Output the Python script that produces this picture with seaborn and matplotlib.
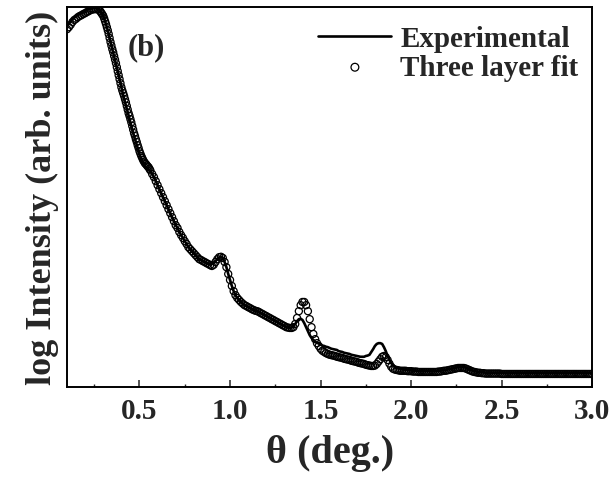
import numpy as np
import pandas as pd
import seaborn as sns
import matplotlib
matplotlib.use("Agg")
import matplotlib.pyplot as plt
from matplotlib.ticker import MultipleLocator

# theta grid (deg), 0.01 step from 0.10 to 3.00
theta = np.round(np.arange(0.10, 3.005, 0.01), 2)

# experimental log intensity (arb. units)
experimental = [
    9.03, 9.08, 9.15, 9.20, 9.24, 9.28, 9.30, 9.33, 9.35, 9.38,
    9.40, 9.43, 9.45, 9.46, 9.48, 9.48, 9.48, 9.46, 9.43, 9.36,
    9.28, 9.15, 9.00, 8.83, 8.63, 8.45, 8.28, 8.10, 7.90, 7.70,
    7.50, 7.30, 7.13, 6.95, 6.78, 6.63, 6.45, 6.28, 6.13, 5.98,
    5.83, 5.70, 5.60, 5.53, 5.48, 5.45, 5.40, 5.33, 5.25, 5.15,
    5.05, 4.95, 4.85, 4.75, 4.65, 4.55, 4.45, 4.35, 4.25, 4.15,
    4.05, 3.98, 3.88, 3.80, 3.73, 3.65, 3.58, 3.50, 3.45, 3.40,
    3.35, 3.30, 3.25, 3.20, 3.18, 3.15, 3.13, 3.10, 3.09, 3.08,
    3.08, 3.10, 3.15, 3.20, 3.24, 3.25, 3.23, 3.13, 3.00, 2.83,
    2.68, 2.53, 2.40, 2.30, 2.23, 2.18, 2.13, 2.09, 2.05, 2.03,
    2.00, 1.98, 1.95, 1.93, 1.91, 1.90, 1.88, 1.85, 1.83, 1.80,
    1.78, 1.75, 1.73, 1.70, 1.68, 1.65, 1.63, 1.60, 1.58, 1.55,
    1.53, 1.50, 1.49, 1.48, 1.49, 1.53, 1.58, 1.65, 1.70, 1.71,
    1.68, 1.60, 1.50, 1.40, 1.30, 1.23, 1.18, 1.14, 1.11, 1.09,
    1.06, 1.04, 1.03, 1.01, 1.00, 0.98, 0.96, 0.95, 0.94, 0.93,
    0.90, 0.89, 0.88, 0.86, 0.85, 0.84, 0.83, 0.81, 0.80, 0.79,
    0.78, 0.77, 0.76, 0.76, 0.76, 0.78, 0.79, 0.81, 0.88, 0.95,
    1.03, 1.08, 1.10, 1.10, 1.08, 1.00, 0.90, 0.78, 0.68, 0.60,
    0.55, 0.51, 0.49, 0.48, 0.46, 0.45, 0.44, 0.44, 0.43, 0.42,
    0.42, 0.41, 0.41, 0.41, 0.40, 0.40, 0.40, 0.40, 0.40, 0.40,
    0.40, 0.40, 0.40, 0.40, 0.40, 0.41, 0.41, 0.42, 0.43, 0.43,
    0.44, 0.45, 0.46, 0.47, 0.48, 0.49, 0.50, 0.50, 0.50, 0.50,
    0.49, 0.47, 0.45, 0.43, 0.41, 0.40, 0.39, 0.38, 0.38, 0.37,
    0.37, 0.36, 0.36, 0.36, 0.36, 0.36, 0.36, 0.36, 0.36, 0.36,
    0.36, 0.35, 0.35, 0.35, 0.35, 0.35, 0.35, 0.35, 0.35, 0.35,
    0.35, 0.35, 0.35, 0.35, 0.35, 0.35, 0.35, 0.35, 0.35, 0.35,
    0.35, 0.35, 0.35, 0.35, 0.35, 0.35, 0.35, 0.35, 0.35, 0.35,
    0.35, 0.35, 0.35, 0.35, 0.35, 0.35, 0.35, 0.35, 0.35, 0.35,
    0.35, 0.35, 0.35, 0.35, 0.35, 0.35, 0.35, 0.35, 0.35, 0.35,
    0.35,
]

# three layer fit on the same grid
fit = [
    8.95, 9.00, 9.06, 9.13, 9.18, 9.21, 9.25, 9.28, 9.30, 9.33,
    9.35, 9.38, 9.40, 9.43, 9.44, 9.45, 9.45, 9.45, 9.41, 9.35,
    9.28, 9.15, 9.00, 8.83, 8.63, 8.45, 8.28, 8.10, 7.90, 7.70,
    7.50, 7.35, 7.20, 7.03, 6.85, 6.70, 6.53, 6.35, 6.20, 6.05,
    5.90, 5.78, 5.68, 5.60, 5.55, 5.50, 5.42, 5.33, 5.25, 5.15,
    5.05, 4.95, 4.85, 4.75, 4.65, 4.55, 4.45, 4.35, 4.25, 4.15,
    4.05, 3.98, 3.88, 3.80, 3.73, 3.65, 3.58, 3.50, 3.45, 3.40,
    3.35, 3.30, 3.25, 3.20, 3.18, 3.15, 3.13, 3.10, 3.08, 3.05,
    3.03, 3.06, 3.13, 3.20, 3.25, 3.26, 3.23, 3.13, 3.00, 2.83,
    2.68, 2.53, 2.40, 2.30, 2.23, 2.18, 2.13, 2.09, 2.05, 2.03,
    2.00, 1.98, 1.95, 1.93, 1.91, 1.90, 1.88, 1.85, 1.83, 1.80,
    1.78, 1.75, 1.73, 1.70, 1.68, 1.65, 1.63, 1.60, 1.58, 1.55,
    1.53, 1.50, 1.49, 1.48, 1.48, 1.50, 1.58, 1.73, 1.90, 2.05,
    2.13, 2.13, 2.05, 1.90, 1.70, 1.50, 1.33, 1.20, 1.10, 1.03,
    0.96, 0.91, 0.88, 0.85, 0.83, 0.81, 0.80, 0.79, 0.78, 0.76,
    0.75, 0.74, 0.73, 0.71, 0.70, 0.69, 0.68, 0.66, 0.65, 0.64,
    0.63, 0.61, 0.60, 0.59, 0.58, 0.56, 0.55, 0.54, 0.53, 0.53,
    0.54, 0.58, 0.64, 0.70, 0.76, 0.78, 0.75, 0.68, 0.59, 0.51,
    0.46, 0.44, 0.43, 0.42, 0.41, 0.41, 0.41, 0.41, 0.40, 0.40,
    0.40, 0.39, 0.39, 0.39, 0.38, 0.38, 0.38, 0.38, 0.38, 0.38,
    0.38, 0.38, 0.38, 0.38, 0.38, 0.39, 0.39, 0.40, 0.41, 0.41,
    0.42, 0.43, 0.44, 0.45, 0.46, 0.47, 0.48, 0.48, 0.48, 0.48,
    0.47, 0.45, 0.43, 0.41, 0.39, 0.38, 0.37, 0.36, 0.36, 0.35,
    0.35, 0.34, 0.34, 0.34, 0.34, 0.34, 0.34, 0.34, 0.34, 0.34,
    0.33, 0.33, 0.33, 0.33, 0.33, 0.33, 0.33, 0.33, 0.33, 0.33,
    0.33, 0.33, 0.33, 0.33, 0.33, 0.33, 0.33, 0.33, 0.33, 0.33,
    0.33, 0.33, 0.33, 0.33, 0.33, 0.33, 0.33, 0.33, 0.33, 0.33,
    0.33, 0.33, 0.33, 0.33, 0.33, 0.33, 0.33, 0.33, 0.33, 0.33,
    0.33, 0.33, 0.33, 0.33, 0.33, 0.33, 0.33, 0.33, 0.33, 0.33,
    0.33,
]

# extra fit points on the steep edge (half steps 0.285 .. 0.555)
theta_mid = np.round(np.arange(0.285, 0.556, 0.01), 3)
fit_mid = [
    9.39, 9.32, 9.22, 9.08, 8.92, 8.73, 8.54, 8.37, 8.19, 8.00,
    7.80, 7.60, 7.42, 7.28, 7.12, 6.94, 6.78, 6.62, 6.44, 6.28,
    6.13, 5.98, 5.84, 5.73, 5.64, 5.58, 5.52, 5.46,
]

exp_df = pd.DataFrame({"theta": theta, "intensity": experimental})
fit_df = pd.concat([
    pd.DataFrame({"theta": theta, "intensity": fit}),
    pd.DataFrame({"theta": theta_mid, "intensity": fit_mid}),
]).sort_values("theta")

sns.set_theme(style="ticks")
plt.rcParams["font.family"] = ["Liberation Serif", "DejaVu Serif"]
plt.rcParams["font.weight"] = "bold"
plt.rcParams["axes.labelweight"] = "bold"

fig = plt.figure(figsize=(6.15, 4.81), dpi=100)
ax = fig.add_axes([0.109, 0.193, 0.854, 0.790])

sns.lineplot(data=exp_df, x="theta", y="intensity", color="black",
             linewidth=1.9, label="Experimental", ax=ax, zorder=2)
sns.scatterplot(data=fit_df, x="theta", y="intensity", marker="o", s=26,
                facecolor="none", edgecolor="black", linewidth=0.9,
                label="Three layer fit", ax=ax, zorder=3)

ax.set_xlim(0.1, 3.0)
ax.set_ylim(0, 9.5)
ax.set_yticks([])
ax.xaxis.set_major_locator(MultipleLocator(0.5))
ax.xaxis.set_minor_locator(MultipleLocator(0.25))
ax.tick_params(axis="x", which="major", direction="in", length=5, width=1.1,
               labelsize=21, pad=7, top=False)
ax.tick_params(axis="x", which="minor", direction="in", length=2.5, width=1.0,
               top=False)
for lab in ax.get_xticklabels():
    lab.set_fontweight("bold")
for sp in ax.spines.values():
    sp.set_linewidth(1.4)
    sp.set_color("black")

ax.set_xlabel("θ (deg.)", fontsize=29, labelpad=7)
ax.set_ylabel("log Intensity (arb. units)", fontsize=26, labelpad=6)

ax.text(0.116, 0.895, "(b)", transform=ax.transAxes, fontsize=22,
        fontweight="bold", va="center", ha="left")

ax.legend(loc="upper right", bbox_to_anchor=(0.99, 0.975), frameon=False,
          prop={"size": 21, "weight": "bold"}, handlelength=2.5,
          handletextpad=0.3, labelspacing=0.05, borderaxespad=0.2,
          borderpad=0.1, markerscale=1.1)

fig.savefig("out.png", dpi=100)
